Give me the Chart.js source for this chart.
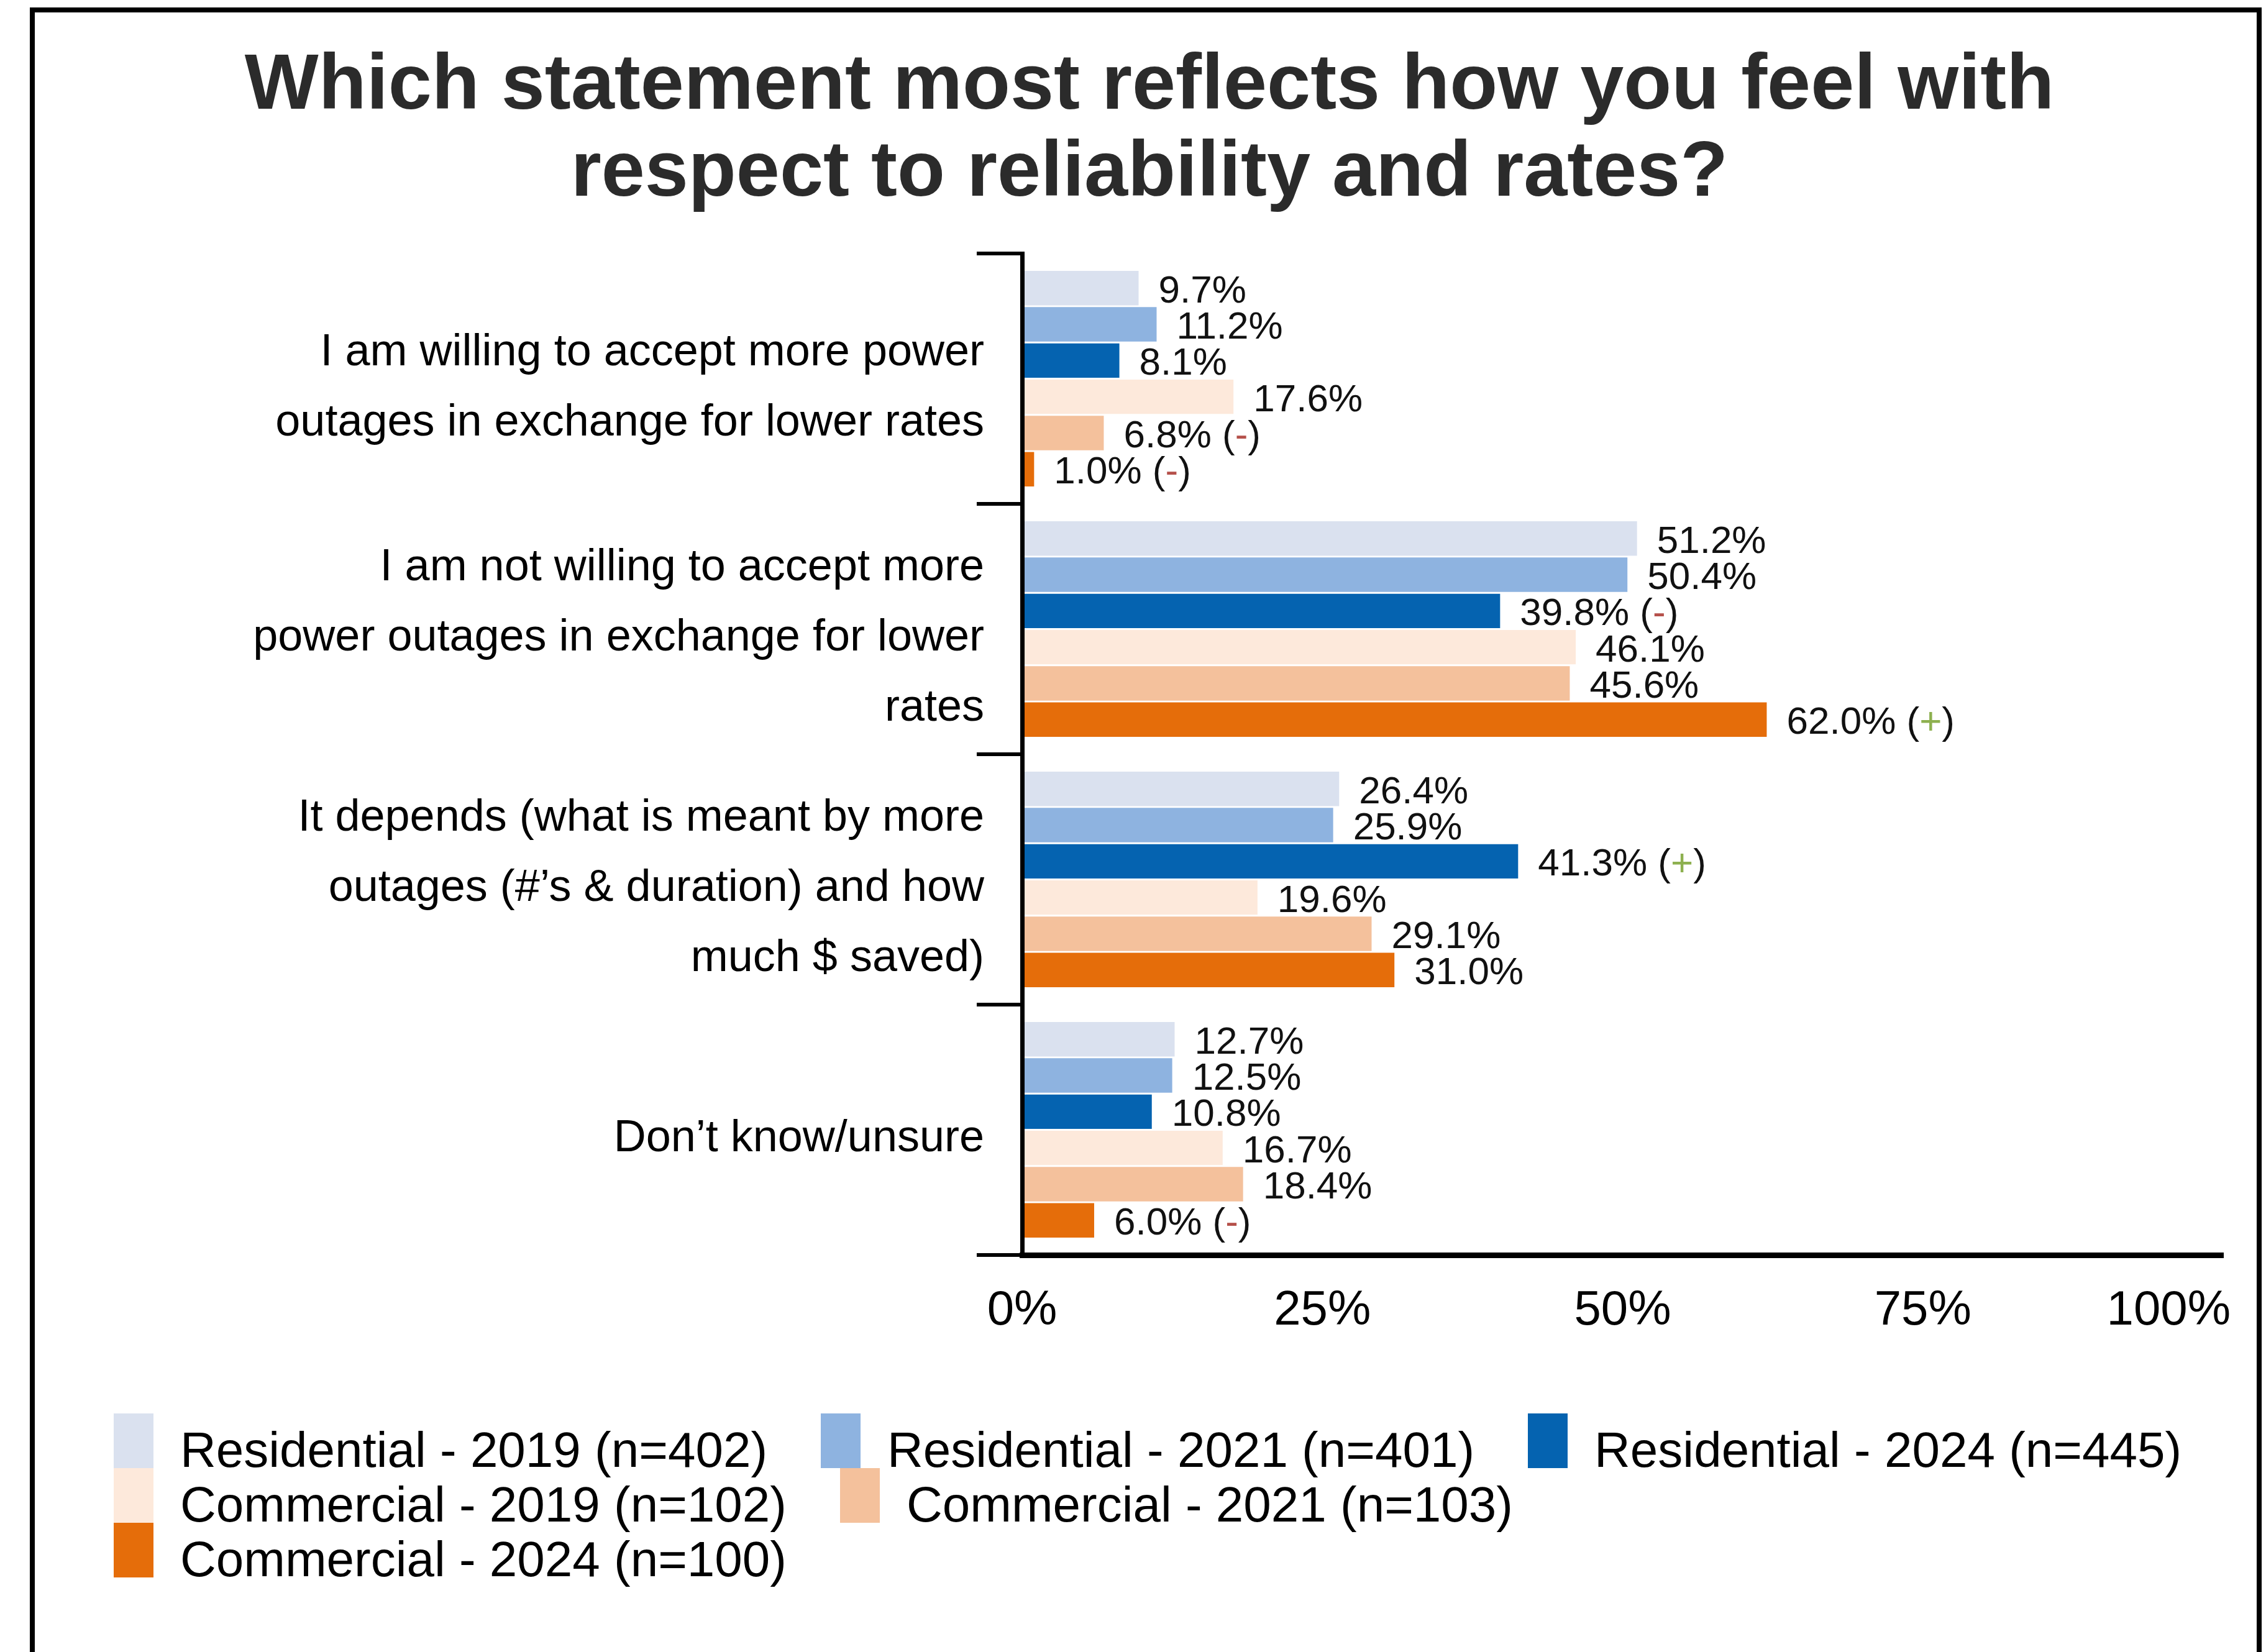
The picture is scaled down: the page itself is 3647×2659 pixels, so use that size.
<!DOCTYPE html>
<html>
<head>
<meta charset="utf-8">
<script src="https://cdn.jsdelivr.net/npm/chart.js@4.4.1/dist/chart.umd.min.js"></script>
<style>
  html, body { margin: 0; padding: 0; background: #fff; width: 3647px; height: 2659px; overflow: hidden; font-family: "Liberation Sans", Arial, sans-serif; }
  #frame { position: absolute; left: 48px; top: 12px; width: 3576px; height: 2700px; border: 8px solid #000; border-bottom: none; }
  #title { position: absolute; left: 0; top: 62px; width: 3700px; text-align: center; font-weight: bold; font-size: 126px; line-height: 140px; color: #2b2b2b; }
  #chart { position: absolute; left: 0; top: 0; }
  #legend { position: absolute; left: 183px; top: 2275px; }
  .row { display: flex; height: 88px; gap: 86px; }
  .item { display: flex; align-items: flex-start; }
  .box { width: 64px; height: 88px; }
  .label { margin-left: 43px; font-size: 80px; line-height: 88px; position: relative; top: 15px; white-space: nowrap; color: #000; }
</style>
</head>
<body>
<div id="frame"></div>
<div id="title">Which statement most reflects how you feel with<br>respect to reliability and rates?</div>
<canvas id="chart" width="3647" height="2659"></canvas>
<div id="legend"></div>
<script>
const categories = [
    ['I am willing to accept more power', 'outages in exchange for lower rates'],
    ['I am not willing to accept more', 'power outages in exchange for lower', 'rates'],
    ['It depends (what is meant by more', 'outages (#’s & duration) and how', 'much $ saved)'],
    ['Don’t know/unsure']
];

const seriesNames = [
    'Residential - 2019 (n=402)',
    'Residential - 2021 (n=401)',
    'Residential - 2024 (n=445)',
    'Commercial - 2019 (n=102)',
    'Commercial - 2021 (n=103)',
    'Commercial - 2024 (n=100)'
];

const residential2019 = [9.7, 51.2, 26.4, 12.7];
const residential2021 = [11.2, 50.4, 25.9, 12.5];
const residential2024 = [8.1, 39.8, 41.3, 10.8];
const commercial2019 = [17.6, 46.1, 19.6, 16.7];
const commercial2021 = [6.8, 45.6, 29.1, 18.4];
const commercial2024 = [1.0, 62.0, 31.0, 6.0];

// significant change vs. earlier waves
const residential2024Flags = ['', '-', '+', ''];
const commercial2021Flags = ['-', '', '', ''];
const commercial2024Flags = ['-', '+', '', '-'];
const noFlags = ['', '', '', ''];

const xTicks = [0, 25, 50, 75, 100];

const seriesColors = ['#DAE1EF', '#8EB3E0', '#0563B0', '#FDE9DB', '#F4C19C', '#E56D0A'];
const seriesValues = [residential2019, residential2021, residential2024, commercial2019, commercial2021, commercial2024];
const seriesFlags = [noFlags, noFlags, residential2024Flags, noFlags, commercial2021Flags, commercial2024Flags];

// legend rows as laid out under the chart
const legendRows = [[0, 1, 2], [3, 4], [5]];

const fontFamily = '"Liberation Sans", Arial, sans-serif';
Chart.defaults.font.family = fontFamily;

const valueLabels = {
    id: 'valueLabels',
    afterDatasetsDraw(chart) {
        const ctx = chart.ctx;
        ctx.save();
        ctx.font = '62px ' + fontFamily;
        ctx.textBaseline = 'middle';
        ctx.textAlign = 'left';
        chart.data.datasets.forEach((ds, i) => {
            chart.getDatasetMeta(i).data.forEach((bar, j) => {
                let x = bar.x + 32;
                const y = bar.y + 6;
                const parts = [[ds.data[j].toFixed(1) + '%', '#111']];
                const flag = ds.flags[j];
                if (flag) {
                    parts.push([' (', '#111'], [flag, flag === '+' ? '#8db04f' : '#b5504a'], [')', '#111']);
                }
                parts.forEach(([text, color]) => {
                    ctx.fillStyle = color;
                    ctx.fillText(text, x, y);
                    x += ctx.measureText(text).width;
                });
            });
        });
        ctx.restore();
    }
};

// percent labels under the x axis, last one kept inside the frame
const xAxisLabels = {
    id: 'xAxisLabels',
    afterDraw(chart) {
        const { ctx, chartArea, scales } = chart;
        ctx.save();
        ctx.font = '78px ' + fontFamily;
        ctx.fillStyle = '#000';
        ctx.textBaseline = 'alphabetic';
        xTicks.forEach((v, i) => {
            const last = i === xTicks.length - 1;
            ctx.textAlign = last ? 'right' : 'center';
            ctx.fillText(v + '%', scales.x.getPixelForValue(v) + (last ? 12 : 0), chartArea.bottom + 112);
        });
        ctx.restore();
    }
};

new Chart('chart', {
    type: 'bar',
    data: {
        labels: categories,
        datasets: seriesNames.map((name, i) => ({
            label: name,
            data: seriesValues[i],
            flags: seriesFlags[i],
            backgroundColor: seriesColors[i],
            categoryPercentage: 0.868,
            barPercentage: 0.95
        }))
    },
    options: {
        indexAxis: 'y',
        responsive: false,
        animation: false,
        layout: { padding: { top: 408, left: 0, right: 69, bottom: 0 } },
        scales: {
            x: {
                type: 'linear',
                min: 0,
                max: 100,
                grid: { display: false },
                ticks: { display: false },
                border: { color: '#000', width: 9, z: 1 },
                afterFit(scale) { scale.height = 639; }
            },
            y: {
                grid: {
                    offset: true,
                    drawOnChartArea: false,
                    drawTicks: true,
                    tickLength: 73,
                    color: '#000',
                    lineWidth: 6
                },
                border: { color: '#000', width: 7, z: 1 },
                ticks: {
                    color: '#000',
                    padding: -12,
                    labelOffset: 15,
                    font: { size: 72, lineHeight: 1.57 }
                },
                afterFit(scale) { scale.width = 1645; }
            }
        },
        plugins: {
            legend: { display: false },
            tooltip: { enabled: false }
        }
    },
    plugins: [valueLabels, xAxisLabels]
});

const legend = document.getElementById('legend');
legendRows.forEach(row => {
    const rowEl = document.createElement('div');
    rowEl.className = 'row';
    row.forEach(i => {
        const item = document.createElement('div');
        item.className = 'item';
        const box = document.createElement('div');
        box.className = 'box';
        box.style.background = seriesColors[i];
        const label = document.createElement('div');
        label.className = 'label';
        label.textContent = seriesNames[i];
        item.appendChild(box);
        item.appendChild(label);
        rowEl.appendChild(item);
    });
    legend.appendChild(rowEl);
});
</script>
</body>
</html>
